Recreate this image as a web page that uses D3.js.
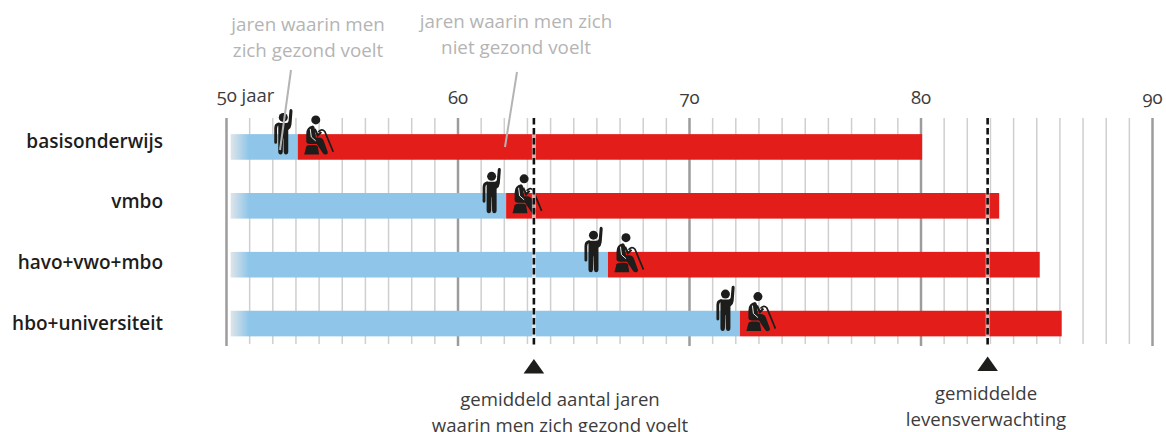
<!DOCTYPE html>
<html>
<head>
<meta charset="utf-8">
<script src="https://cdn.jsdelivr.net/npm/d3@7"></script>
<style>
html, body { margin: 0; padding: 0; background: #fff; overflow: hidden; }
svg { display: block; }
text { font-family: "Open Sans", "Noto Sans", sans-serif; font-variant-numeric: oldstyle-nums; }
</style>
</head>
<body>
<script>
var width = 1166, height = 432;

// values (ages)
var categories = ["basisonderwijs", "vmbo", "havo+vwo+mbo", "hbo+universiteit"];
var healthyUntil = [53.1, 62.1, 66.5, 72.2];
var lifeEnd = [80.07, 83.4, 85.15, 86.1];
var barStart = 50.2;
var majorTicks = [50, 60, 70, 80, 90];
var tickLabels = ["50 jaar", "60", "70", "80", "90"];
var minorTicks = d3.range(50, 91).filter(function(d) { return d % 10 != 0; });
var avgHealthy = 63.3;
var avgLife = 82.9;

var x = d3.scaleLinear().domain([50, 90]).range([226, 1152]);
var y = d3.scaleBand().domain(categories).range([117.5, 353]).paddingInner(0.565).paddingOuter(0.2825);
// the row names are spaced a little wider than the bars
var yLabel = d3.scalePoint().domain(categories).range([141.5, 323.5]);

var svg = d3.select("body").append("svg")
	.attr("width", width)
	.attr("height", height);

// fade at the start of the blue bars
var grad = svg.append("defs").append("linearGradient")
	.attr("id", "fade")
	.attr("gradientUnits", "userSpaceOnUse")
	.attr("x1", x(barStart)).attr("x2", x(51))
	.attr("y1", 0).attr("y2", 0);
grad.append("stop").attr("offset", "0%").attr("stop-color", "#dfe5ea");
grad.append("stop").attr("offset", "100%").attr("stop-color", "#8ec5e8");

// minor and major gridlines, both from d3 axes
var minorAxis = svg.append("g")
	.attr("transform", "translate(0,118)")
	.call(d3.axisBottom(x).tickValues(minorTicks).tickSize(226).tickFormat(""));
minorAxis.select(".domain").remove();
minorAxis.selectAll("line").attr("stroke", "#cfcfcf").attr("stroke-width", 1.5);

var majorAxis = svg.append("g")
	.attr("transform", "translate(0,346)")
	.call(d3.axisTop(x).tickValues(majorTicks).tickSize(228).tickPadding(14)
		.tickFormat(function(d, i) { return tickLabels[i]; }));
majorAxis.select(".domain").remove();
majorAxis.selectAll("line").attr("stroke", "#9c9c9c").attr("stroke-width", 2.5);
majorAxis.selectAll("text")
	.attr("font-size", 18.5)
	.attr("fill", "#3c3c3c")
	.style("font-family", "'Open Sans', sans-serif");
majorAxis.selectAll("text").filter(function(d) { return d == 50; })
	.attr("dx", 19).attr("dy", -2);

// bars
var row = svg.selectAll(".row")
	.data(categories)
	.enter().append("g")
	.attr("class", "row")
	.attr("transform", function(d) { return "translate(0," + y(d) + ")"; });

row.append("rect") // healthy years
	.attr("x", x(barStart))
	.attr("width", function(d, i) { return x(healthyUntil[i]) - x(barStart); })
	.attr("height", y.bandwidth())
	.attr("fill", "url(#fade)");

row.append("rect") // unhealthy years
	.attr("x", function(d, i) { return x(healthyUntil[i]); })
	.attr("width", function(d, i) { return x(lifeEnd[i]) - x(healthyUntil[i]); })
	.attr("height", y.bandwidth())
	.attr("fill", "#e31e1a");

svg.selectAll(".rowname")
	.data(categories)
	.enter().append("text")
	.attr("class", "rowname")
	.attr("x", 163)
	.attr("y", function(d) { return yLabel(d); })
	.attr("dy", "0.32em")
	.attr("text-anchor", "end")
	.attr("font-size", 19)
	.attr("font-weight", 600)
	.attr("fill", "#1d1d1b")
	.text(function(d) { return d; });

// dashed reference lines
[avgHealthy, avgLife].forEach(function(v) {
	svg.append("line")
		.attr("x1", x(v)).attr("x2", x(v))
		.attr("y1", 118).attr("y2", 345)
		.attr("stroke", "#fff").attr("stroke-width", 4).attr("opacity", 0.6);
	svg.append("line")
		.attr("x1", x(v)).attr("x2", x(v))
		.attr("y1", 118).attr("y2", 345)
		.attr("stroke", "#111").attr("stroke-width", 2.6)
		.attr("stroke-dasharray", "6.5 3.5");
});

// triangles under the reference lines
svg.append("path").attr("d", "M0,-7.5L10.3,7H-10.3Z").attr("fill", "#1d1d1b")
	.attr("transform", "translate(" + x(avgHealthy) + ",366.5)");
svg.append("path").attr("d", "M0,-7.5L10.3,7H-10.3Z").attr("fill", "#1d1d1b")
	.attr("transform", "translate(" + x(avgLife) + ",364)");

// icons
var ink = "#1d1d1b";
var standPath = "M-4.5,5.5L3,5.5Q5,5.5 5.3,3.5L6.2,-7Q6.8,-8.8 8.3,-8.2Q9.4,-7.6 9.2,-6L8.2,7Q7.8,11 5,12.5L5,34Q5,37 2.6,37Q0.8,37 0.5,34.5L0.2,21L-0.2,21L-0.5,34.5Q-0.8,37 -2.6,37Q-5,37 -5,34L-5,5.5Z";
var sitBody = "M-3,5.5Q-9.5,6.5 -9.5,14L-9.5,22Q-9,24 -6,24L1,24L7,33Q8,35 10.5,34.5Q12.5,34 12,32L8,21Q7,17.5 3,17.5L0,17.5L-1,8Q-1.5,5.5 -3,5.5Z";
var sitStool = "M-11.6,34.5L-9.5,26.5Q-9,25 -6,25L-1,25Q1.5,25 2,26.5L3.4,34.5Z";

function standing(sel) {
	sel.append("circle").attr("r", 4.5).attr("fill", ink);
	sel.append("path").attr("d", standPath).attr("fill", ink);
	sel.append("path").attr("d", "M-4.5,6.5Q-7.6,7 -7.6,11L-7.6,25")
		.attr("fill", "none").attr("stroke", ink).attr("stroke-width", 2.8).attr("stroke-linecap", "round");
}
function sitting(sel) {
	sel.append("circle").attr("r", 4.5).attr("fill", ink);
	sel.append("path").attr("d", sitBody).attr("fill", ink);
	sel.append("path").attr("d", sitStool).attr("fill", ink);
	sel.append("path").attr("d", "M-5.5,9L-4.5,17L0,21")
		.attr("fill", "none").attr("stroke", "#fff").attr("stroke-width", 0.9);
	sel.append("path").attr("d", "M-1,9L2,15.5L5.5,12")
		.attr("fill", "none").attr("stroke", ink).attr("stroke-width", 2.2);
	sel.append("path").attr("d", "M2.5,12Q6,8 9,11.5L17.5,32")
		.attr("fill", "none").attr("stroke", ink).attr("stroke-width", 1.7);
}

row.append("g")
	.attr("transform", function(d, i) { return "translate(" + (x(healthyUntil[i]) - 14.5) + "," + (y.bandwidth() / 2 - 29.5) + ")"; })
	.call(standing);
row.append("g")
	.attr("transform", function(d, i) { return "translate(" + (x(healthyUntil[i]) + 18) + "," + (y.bandwidth() / 2 - 27) + ")"; })
	.call(sitting);

// grey callouts
var callouts = [
	{ lines: ["jaren waarin men", "zich gezond voelt"], cx: 308, top: 31 },
	{ lines: ["jaren waarin men zich", "niet gezond voelt"], cx: 516, top: 28 }
];
callouts.forEach(function(c) {
	c.lines.forEach(function(t, i) {
		svg.append("text").attr("x", c.cx).attr("y", c.top + i * 26)
			.attr("text-anchor", "middle").attr("font-size", 18.8)
			.attr("fill", "#b4b4b4").text(t);
	});
});
svg.append("line").attr("x1", 291).attr("y1", 70).attr("x2", 280).attr("y2", 150)
	.attr("stroke", "#b4b4b4").attr("stroke-width", 2);
svg.append("line").attr("x1", 517).attr("y1", 72).attr("x2", 505).attr("y2", 147)
	.attr("stroke", "#b4b4b4").attr("stroke-width", 2);

// bottom labels, the last line runs to the picture's edge as in the original
var notes = [
	{ lines: ["gemiddeld aantal jaren", "waarin men zich gezond voelt"], cx: 560, top: 406 },
	{ lines: ["gemiddelde", "levensverwachting"], cx: 986, top: 400 }
];
notes.forEach(function(c) {
	c.lines.forEach(function(t, i) {
		svg.append("text").attr("x", c.cx).attr("y", c.top + i * 25.5)
			.attr("text-anchor", "middle").attr("font-size", 18.6)
			.attr("fill", "#3c3c3c").text(t);
	});
});
</script>
</body>
</html>
